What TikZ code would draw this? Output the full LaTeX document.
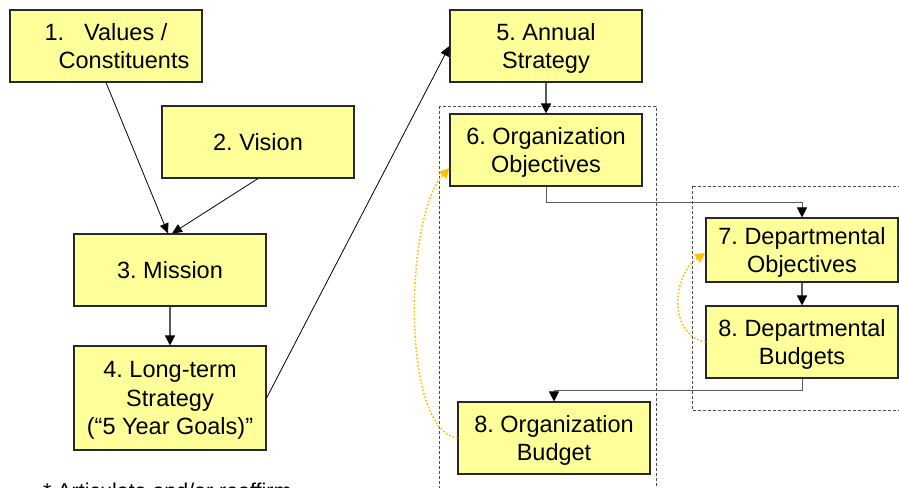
\documentclass[tikz,border=0pt]{standalone}
\usepackage{fontspec}
\setmainfont{Liberation Sans}
\usetikzlibrary{arrows.meta}
\frenchspacing

\definecolor{boxfill}{RGB}{255,255,153}
\definecolor{boxline}{RGB}{40,40,40}
\definecolor{linkgray}{RGB}{90,90,90}
\definecolor{loopgold}{RGB}{255,192,0}
\definecolor{framegray}{RGB}{80,80,80}

\tikzset{
  stagebox/.style={draw=boxline, line width=1.1pt, fill=boxfill,
    minimum width=192pt, minimum height=72pt, inner sep=0pt,
    text depth=0pt, align=center, font=\fontsize{23.5}{28.5}\selectfont},
  link/.style={draw=black, line width=0.8pt,
    -{Triangle[length=10pt,width=9pt]}},
  steplink/.style={draw=linkgray, line width=1.4pt,
    -{Triangle[length=10pt,width=10pt,color=black,fill=black]}},
  elbowlink/.style={draw=linkgray, line width=1pt,
    -{Triangle[length=10pt,width=10pt,color=black,fill=black]}},
  feedback/.style={draw=loopgold, line width=1.6pt, dotted,
    -{Triangle[length=10pt,width=10pt,color=loopgold,fill=loopgold]}},
  groupframe/.style={draw=framegray, line width=1pt, dash pattern=on 3pt off 2pt},
}

\begin{document}
\begin{tikzpicture}[x=1pt,y=-1pt]
  \clip (0,0) rectangle (899,487);
  \fill[white] (0,0) rectangle (899,487);

  % dashed groupings
  \draw[groupframe] (439,106) rectangle (656,500);
  \draw[groupframe] (692,186) rectangle (910,410);

  % stages
  \node[stagebox] (b1) at (106,46) {1.\hspace{20pt}Values /\\\hspace*{36pt}Constituents};
  \node[stagebox] (b2) at (258,142) {2. Vision};
  \node[stagebox] (b3) at (170,270) {3. Mission};
  \node[stagebox, minimum height=104pt] (b4) at (170,398) {4. Long-term\\Strategy\\(“5 Year Goals)”};
  \node[stagebox] (b5) at (546,46) {5. Annual\\Strategy};
  \node[stagebox] (b6) at (546,150) {6. Organization\\Objectives};
  \node[stagebox, minimum height=64pt] (b7) at (802,250) {7. Departmental\\Objectives};
  \node[stagebox] (b8d) at (802,342) {8. Departmental\\Budgets};
  \node[stagebox] (b8o) at (554,438) {8. Organization\\Budget};

  % connectors
  \draw[link] (b1.south) -- ([xshift=-2pt]b3.north);
  \draw[link] (b2.south) -- ([xshift=2pt]b3.north);
  \draw[steplink] (b3.south) -- (b4.north);
  \draw[link] (b4.east) -- (b5.west);
  \draw[steplink] (b5.south) -- (b6.north);
  \draw[elbowlink] (b6.south) -- ++(0,16) -| (b7.north);
  \draw[steplink] (b7.south) -- (b8d.north);
  \draw[elbowlink] (b8d.south) -- ++(0,12) -| (b8o.north);

  % feedback loops
  \draw[feedback] (b8o.west) .. controls (400,430) and (405,215) .. ([yshift=-18pt]b6.west);
  \draw[feedback] (b8d.west) .. controls (668,335) and (672,275) .. ([yshift=-3pt]b7.west);

  % footnote
  \node[anchor=base west, inner sep=0pt, font=\fontsize{21.4}{26}\selectfont] (note) at (43,498.5) {* Articulate and/or reaffirm};
\end{tikzpicture}
\end{document}
